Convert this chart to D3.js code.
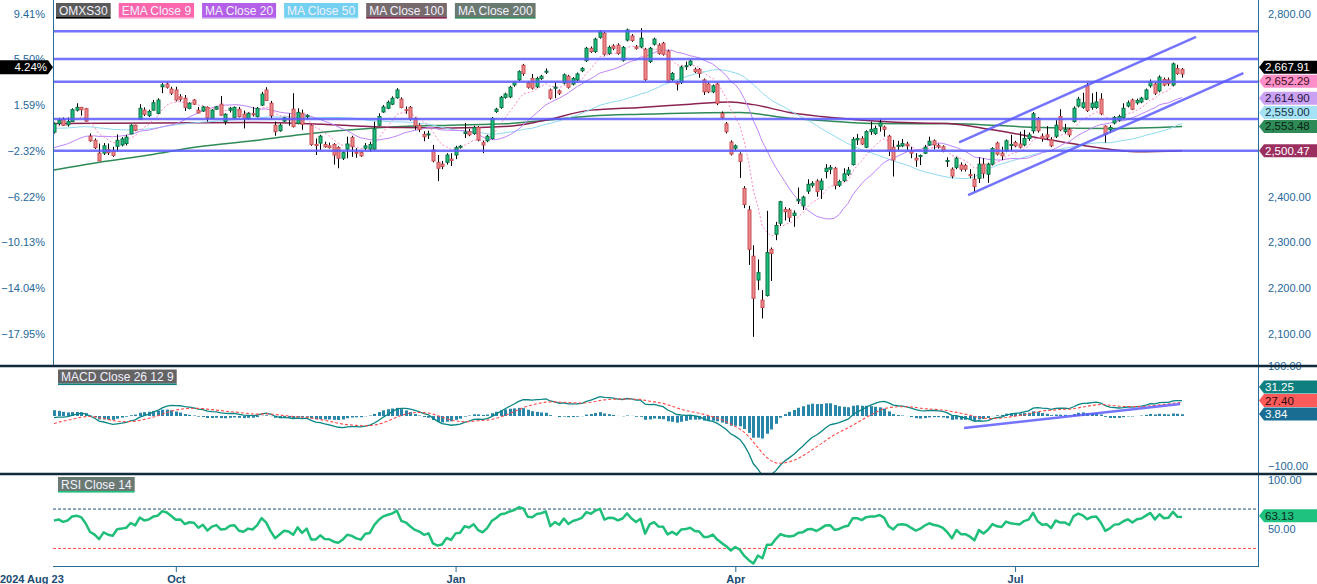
<!DOCTYPE html>
<html>
<head>
<meta charset="UTF-8">
<title>OMXS30</title>
<style>
  body { margin: 0; background: #fff; }
  svg { display: block; font-family: "Liberation Sans", Arial, sans-serif; }
</style>
</head>
<body>
<div id="chart"></div>
<script src="https://d3js.org/d3.v7.min.js"></script>
<script>
var width = 1317, height = 584;

// daily OHLC, first bar 2024 Aug 23
var opens = [
  2541,2560,2569,2557,2564,2589,2595,2592,2532,2523,
  2495,2495,2503,2500,2510,2513,2516,2537,2556,2569,
  2589,2577,2589,2582,2640,2646,2635,2633,2618,2615,
  2593,2611,2589,2587,2595,2571,2591,2602,2564,2589,
  2572,2591,2580,2571,2581,2575,2600,2633,2604,2556,
  2544,2565,2570,2591,2560,2582,2575,2556,2514,2517,
  2514,2511,2514,2507,2484,2504,2529,2497,2497,2506,
  2504,2504,2556,2585,2593,2602,2616,2613,2590,2595,
  2571,2556,2536,2535,2502,2475,2471,2475,2482,2491,
  2508,2538,2542,2538,2551,2518,2522,2527,2586,2595,
  2617,2618,2644,2655,2687,2648,2658,2640,2658,2672,
  2633,2638,2631,2648,2663,2646,2655,2675,2697,2724,
  2717,2748,2757,2713,2729,2731,2698,2742,2751,2727,
  2727,2722,2695,2733,2731,2735,2718,2656,2649,2649,
  2684,2688,2678,2678,2655,2646,2629,2646,2582,2559,
  2519,2506,2493,2418,2371,2270,2218,2174,2184,2285,
  2318,2342,2372,2371,2359,2391,2380,2412,2425,2434,
  2416,2455,2460,2462,2425,2435,2449,2470,2524,2527,
  2508,2542,2538,2554,2552,2532,2508,2510,2511,2515,
  2500,2484,2488,2495,2513,2522,2512,2509,2477,2460,
  2464,2469,2468,2448,2438,2440,2471,2449,2471,2517,
  2495,2500,2512,2518,2515,2513,2527,2544,2571,2532,
  2535,2524,2532,2575,2542,2547,2564,2598,2595,2642,
  2595,2595,2613,2554,2546,2561,2567,2573,2598,2611,
  2605,2607,2613,2642,2646,2631,2656,2655,2644,2680,
  2678];
var highs = [
  2562,2572,2573,2573,2593,2604,2596,2594,2538,2527,
  2516,2517,2516,2509,2536,2530,2535,2558,2557,2602,
  2595,2590,2611,2615,2648,2650,2640,2640,2624,2622,
  2606,2613,2596,2598,2597,2591,2598,2620,2582,2596,
  2597,2596,2588,2584,2596,2596,2629,2639,2609,2564,
  2560,2574,2582,2626,2593,2590,2580,2558,2527,2535,
  2520,2518,2517,2510,2499,2531,2533,2506,2500,2517,
  2520,2564,2582,2600,2610,2619,2637,2617,2597,2598,
  2573,2560,2543,2544,2513,2491,2478,2495,2495,2511,
  2513,2561,2548,2555,2554,2522,2535,2574,2594,2620,
  2627,2642,2652,2676,2690,2652,2668,2662,2666,2680,
  2636,2650,2634,2669,2666,2661,2671,2683,2727,2728,
  2747,2764,2760,2730,2733,2735,2729,2767,2755,2731,
  2768,2725,2727,2747,2735,2738,2721,2672,2653,2686,
  2695,2699,2682,2681,2658,2650,2645,2649,2586,2563,
  2523,2514,2497,2423,2380,2294,2263,2196,2369,2289,
  2345,2391,2377,2375,2370,2420,2402,2438,2434,2438,
  2440,2471,2469,2465,2437,2462,2465,2530,2537,2532,
  2545,2564,2555,2569,2555,2535,2524,2522,2526,2520,
  2509,2495,2492,2513,2531,2525,2516,2512,2486,2464,
  2487,2475,2472,2460,2450,2486,2484,2474,2508,2520,
  2509,2525,2535,2522,2542,2546,2540,2585,2574,2538,
  2554,2530,2567,2591,2559,2550,2597,2618,2627,2648,
  2626,2629,2626,2556,2556,2576,2579,2604,2610,2614,
  2614,2618,2636,2656,2650,2665,2660,2660,2693,2688,
  2681];
var lows = [
  2538,2556,2555,2553,2563,2586,2577,2563,2520,2504,
  2478,2491,2491,2487,2498,2510,2512,2536,2543,2568,
  2576,2574,2588,2580,2626,2636,2622,2608,2608,2587,
  2591,2600,2582,2585,2564,2570,2590,2577,2557,2584,
  2571,2573,2549,2568,2575,2573,2598,2609,2571,2533,
  2542,2563,2555,2551,2558,2546,2570,2511,2491,2502,
  2507,2505,2470,2462,2480,2484,2487,2485,2487,2501,
  2498,2502,2554,2583,2591,2600,2614,2593,2581,2566,
  2546,2541,2521,2526,2475,2434,2460,2470,2467,2482,
  2505,2528,2532,2535,2521,2495,2519,2525,2583,2592,
  2614,2615,2640,2652,2664,2636,2634,2637,2655,2668,
  2612,2615,2622,2645,2636,2643,2652,2672,2694,2714,
  2714,2745,2708,2710,2720,2710,2695,2739,2738,2721,
  2724,2653,2692,2730,2710,2708,2648,2653,2632,2646,
  2677,2685,2670,2660,2622,2626,2626,2600,2570,2538,
  2490,2502,2441,2375,2251,2094,2196,2134,2182,2216,
  2305,2336,2348,2345,2334,2384,2371,2406,2420,2400,
  2395,2440,2449,2416,2421,2432,2445,2468,2513,2513,
  2506,2535,2535,2542,2531,2489,2444,2502,2508,2502,
  2484,2465,2469,2493,2511,2503,2505,2497,2465,2440,
  2460,2455,2455,2440,2411,2430,2440,2430,2468,2490,
  2480,2497,2500,2508,2505,2510,2522,2538,2540,2520,
  2525,2508,2528,2543,2538,2530,2562,2595,2592,2585,
  2590,2592,2578,2518,2540,2558,2564,2570,2595,2589,
  2601,2604,2611,2638,2622,2628,2641,2642,2641,2666,
  2660];
var closes = [
  2559.29,2567,2556,2564,2590,2595,2590,2565,2522,2507,
  2478,2511,2496,2490,2523,2526,2530,2556,2545,2593,
  2580,2586,2605,2611,2644,2639,2626,2611,2613,2595,
  2604,2602,2583,2596,2572,2589,2596,2578,2580,2593,
  2595,2575,2571,2582,2579,2593,2624,2610,2577,2542,
  2556,2572,2568,2553,2584,2558,2577,2514,2513,2532,
  2509,2507,2491,2484,2496,2515,2509,2496,2489,2511,
  2514,2548,2575,2596,2606,2615,2633,2595,2588,2571,
  2555,2547,2531,2537,2478,2462,2466,2491,2479,2507,
  2510,2541,2535,2551,2524,2513,2532,2571,2591,2617,
  2624,2639,2649,2673,2669,2639,2637,2658,2663,2674,
  2615,2639,2626,2666,2639,2658,2668,2680,2724,2717,
  2744,2760,2711,2726,2724,2713,2726,2764,2741,2724,
  2746,2656,2724,2744,2713,2711,2651,2669,2646,2683,
  2686,2696,2673,2669,2629,2629,2642,2604,2573,2542,
  2493,2511,2477,2383,2285,2178,2234,2158,2278,2276,
  2337,2389,2367,2355,2364,2394,2399,2427,2429,2411,
  2434,2462,2464,2425,2433,2450,2458,2525,2527,2515,
  2542,2547,2549,2561,2547,2500,2480,2512,2516,2511,
  2495,2480,2490,2508,2521,2513,2509,2500,2479,2445,
  2484,2460,2460,2446,2422,2471,2451,2471,2505,2493,
  2489,2522,2514,2511,2508,2527,2535,2581,2544,2527,
  2530,2511,2556,2546,2547,2535,2593,2613,2605,2588,
  2604,2607,2581,2537,2551,2573,2575,2593,2605,2591,
  2610,2615,2633,2651,2626,2661,2644,2647,2690,2669,
  2667.91];

// x axis: bar index of each month tick
var tickIndex = [27, 89, 151, 213];
var tickLabels = ["Oct", "Jan", "Apr", "Jul"];
var startLabel = "2024 Aug 23";
var priceTicks = [2100, 2200, 2300, 2400, 2500, 2600, 2700, 2800];

// long averages as [bar index, value]
var ma100Points = [[0,2560],[44,2562],[55,2560],[66,2555],[77,2551],[88,2550],[101,2554],[108,2565],
  [119,2589],[130,2595],[141,2602],[150,2607],[155,2601],[163,2584],[170,2575],[181,2566],[192,2561],
  [198,2560],[208,2546],[219,2527],[230,2509],[240,2498],[250,2500.47]];
var ma200Points = [[0,2458],[10,2475],[21,2491],[32,2509],[44,2522],[55,2536],[66,2546],[77,2553],
  [88,2556],[100,2559],[109,2567],[119,2576],[130,2580],[152,2584],[163,2571],[171,2566],[181,2560],
  [192,2559],[197,2560],[219,2551],[234,2549],[250,2553.48]];

// last values shown in the tags at the right edge
var priceTagValues = [2667.91, 2652.29, 2614.90, 2559.00, 2553.48, 2500.47];
var priceTagFills = ["#000000", "#ff8fc8", "#c9a2f4", "#a6e2f5", "#2e8b57", "#9b2f60"];
var priceTagText = ["#ffffff", "#3a1020", "#2a1440", "#113344", "#0a1f12", "#ffffff"];
var macdTagValues = [31.25, 27.40, 3.84];
var macdTagFills = ["#0f7f80", "#ff5a5a", "#196d93"];
var macdTagText = ["#ffffff", "#2a0a0a", "#ffffff"];
var rsiTagValue = 63.13;

// drawn levels and trend lines
var levels = [2761, 2700.5, 2651, 2569.5, 2500.4];
var channel = [[[200.6, 2518.7], [253.1, 2749]], [[202.6, 2403.6], [263.6, 2670]]];
var macdTrend = [[201.7, -24], [249.6, 24]];

// warm-up values for the indicators (history before the first bar)
var ema9Seed = 2552, ma20Prior = 2504, ma50Prior = 2549;
var ema12Seed = 2556, ema26Seed = 2559.29, signalSeed = -15;
var rsiSeed = [12, 8.6];

var n = closes.length;
var base = closes[0];

function emaSeries(values, period, seed) {
  var k = 2 / (period + 1), out = [seed];
  for (var i = 1; i < values.length; i++) out.push(out[i - 1] + k * (values[i] - out[i - 1]));
  return out;
}
function smaSeries(values, period, prior) {
  var out = [], sum = 0;
  for (var i = 0; i < values.length; i++) {
    sum += values[i];
    if (i >= period) sum -= values[i - period];
    var missing = Math.max(0, period - 1 - i);
    out.push((sum + missing * prior) / period);
  }
  return out;
}

var ema9 = emaSeries(closes, 9, ema9Seed);
var ma20 = smaSeries(closes, 20, ma20Prior);
var ma50 = smaSeries(closes, 50, ma50Prior);
var ema12 = emaSeries(closes, 12, ema12Seed);
var ema26 = emaSeries(closes, 26, ema26Seed);
var macd = ema12.map(function (v, i) { return v - ema26[i]; });
var signal = emaSeries(macd, 9, signalSeed);
var hist = macd.map(function (v, i) { return v - signal[i]; });

var rsi = [];
(function () {
  var ag = rsiSeed[0], al = rsiSeed[1];
  rsi.push(100 - 100 / (1 + ag / al));
  for (var i = 1; i < n; i++) {
    var d = closes[i] - closes[i - 1];
    ag = (ag * 13 + Math.max(d, 0)) / 14;
    al = (al * 13 + Math.max(-d, 0)) / 14;
    rsi.push(100 - 100 / (1 + ag / al));
  }
})();

// scales
var x = d3.scaleLinear().domain([0, n - 1]).range([54, 1182]);
var yMain = d3.scaleLinear().domain([2030.2, 2829.5]).range([366, 0]);
var yMacd = d3.scaleLinear().domain([-100, 100]).range([466, 366]);
var yRsi = d3.scaleLinear().domain([0, 100]).range([578, 479.5]);

var axisColor = "#2a6c96";
var labelColor = "#26679a";

var svg = d3.select("#chart").append("svg")
  .attr("width", width).attr("height", height);

var defs = svg.append("defs");
defs.append("clipPath").attr("id", "clipMain").append("rect")
  .attr("x", 53).attr("y", 0).attr("width", 1205).attr("height", 366);
defs.append("clipPath").attr("id", "clipMacd").append("rect")
  .attr("x", 53).attr("y", 367).attr("width", 1205).attr("height", 106);
defs.append("clipPath").attr("id", "clipRsi").append("rect")
  .attr("x", 53).attr("y", 475).attr("width", 1205).attr("height", 91);

// ---------- main pane ----------
var gMain = svg.append("g").attr("clip-path", "url(#clipMain)");

var idxLine = function (scale) {
  return d3.line().x(function (d, i) { return x(i); }).y(function (d) { return scale(d); });
};
var ptLine = d3.line().x(function (d) { return x(d[0]); }).y(function (d) { return yMain(d[1]); })
  .curve(d3.curveMonotoneX);

gMain.append("path").datum(ma200Points).attr("d", ptLine)
  .attr("fill", "none").attr("stroke", "#2e8b57").attr("stroke-width", 1.5);
gMain.append("path").datum(ma100Points).attr("d", ptLine)
  .attr("fill", "none").attr("stroke", "#8b2252").attr("stroke-width", 1.5);
gMain.append("path").datum(ma50).attr("d", idxLine(yMain))
  .attr("fill", "none").attr("stroke", "#8fdaf2").attr("stroke-width", 1);
gMain.append("path").datum(ma20).attr("d", idxLine(yMain))
  .attr("fill", "none").attr("stroke", "#c083fb").attr("stroke-width", 1);
gMain.append("path").datum(ema9).attr("d", idxLine(yMain))
  .attr("fill", "none").attr("stroke", "#ff86c4").attr("stroke-width", 1)
  .attr("stroke-dasharray", "2,2");

var bars = closes.map(function (c, i) {
  return { i: i, o: opens[i], h: highs[i], l: lows[i], c: c };
});
var candle = gMain.append("g").selectAll("g").data(bars).enter().append("g");
candle.append("line")
  .attr("x1", function (d) { return Math.round(x(d.i)) + 0.5; })
  .attr("x2", function (d) { return Math.round(x(d.i)) + 0.5; })
  .attr("y1", function (d) { return yMain(d.h); })
  .attr("y2", function (d) { return yMain(d.l); })
  .attr("stroke", "#000").attr("stroke-width", 1);
candle.append("rect")
  .attr("x", function (d) { return Math.round(x(d.i)) - 1; })
  .attr("width", 3)
  .attr("y", function (d) { return yMain(Math.max(d.o, d.c)); })
  .attr("height", function (d) { return Math.max(1, Math.abs(yMain(d.o) - yMain(d.c))); })
  .attr("fill", function (d) { return d.c >= d.o ? "#1cc07c" : "#e9898b"; })
  .attr("stroke", function (d) { return d.c >= d.o ? "#0b7346" : "#cc4f55"; })
  .attr("stroke-width", 1);

gMain.append("g").selectAll("line").data(levels).enter().append("line")
  .attr("x1", 53).attr("x2", 1258)
  .attr("y1", function (d) { return yMain(d); })
  .attr("y2", function (d) { return yMain(d); })
  .attr("stroke", "#5c5cff").attr("stroke-opacity", 0.85).attr("stroke-width", 2.5);

gMain.append("g").selectAll("line").data(channel).enter().append("line")
  .attr("x1", function (d) { return x(d[0][0]); })
  .attr("y1", function (d) { return yMain(d[0][1]); })
  .attr("x2", function (d) { return x(d[1][0]); })
  .attr("y2", function (d) { return yMain(d[1][1]); })
  .attr("stroke", "#5c5cff").attr("stroke-opacity", 0.85).attr("stroke-width", 2.5);

// ---------- MACD pane ----------
var gMacd = svg.append("g").attr("clip-path", "url(#clipMacd)");
gMacd.append("g").selectAll("rect").data(hist).enter().append("rect")
  .attr("x", function (d, i) { return Math.round(x(i)) - 1; })
  .attr("width", 3)
  .attr("y", function (d) { return Math.min(yMacd(0), yMacd(d)); })
  .attr("height", function (d) { return Math.abs(yMacd(d) - yMacd(0)); })
  .attr("fill", "#2a86a9");
gMacd.append("path").datum(macd).attr("d", idxLine(yMacd))
  .attr("fill", "none").attr("stroke", "#0a8585").attr("stroke-width", 1.3);
gMacd.append("path").datum(signal).attr("d", idxLine(yMacd))
  .attr("fill", "none").attr("stroke", "#ff4a4a").attr("stroke-width", 1.1)
  .attr("stroke-dasharray", "3,2");
gMacd.append("line")
  .attr("x1", x(macdTrend[0][0])).attr("y1", yMacd(macdTrend[0][1]))
  .attr("x2", x(macdTrend[1][0])).attr("y2", yMacd(macdTrend[1][1]))
  .attr("stroke", "#5c5cff").attr("stroke-opacity", 0.85).attr("stroke-width", 2.5);

// ---------- RSI pane ----------
var gRsi = svg.append("g").attr("clip-path", "url(#clipRsi)");
gRsi.append("line").attr("x1", 53).attr("x2", 1258)
  .attr("y1", yRsi(70)).attr("y2", yRsi(70))
  .attr("stroke", "#1f4f78").attr("stroke-width", 1).attr("stroke-dasharray", "3,2");
gRsi.append("line").attr("x1", 53).attr("x2", 1258)
  .attr("y1", yRsi(30)).attr("y2", yRsi(30))
  .attr("stroke", "#ff4a4a").attr("stroke-width", 1).attr("stroke-dasharray", "3,2");
gRsi.append("path").datum(rsi).attr("d", idxLine(yRsi))
  .attr("fill", "none").attr("stroke", "#1fbf7a").attr("stroke-width", 2.5)
  .attr("stroke-linejoin", "round");

// ---------- value tags (positions first, so covered tick labels can be dropped) ----------
function stackTags(values, scale, gap) {
  var items = values.map(function (v, k) { return { v: v, k: k }; });
  items.sort(function (a, b) { return a.v - b.v; });
  var prev = Infinity;
  items.forEach(function (t) {
    t.y = Math.min(scale(t.v), prev - gap);
    prev = t.y;
  });
  return items;
}
var fmtPrice = d3.format(",.2f");
var fmtPct = d3.format(".2f");

var priceTags = stackTags(priceTagValues, yMain, 14);
var macdTags = stackTags(macdTagValues, yMacd, 13.5);
var tagYs = priceTags.map(function (t) { return t.y; });

// ---------- axes ----------
function styleAxis(g, bold) {
  g.select(".domain").remove();
  g.selectAll("text").attr("fill", labelColor).attr("font-size", 11)
    .attr("font-family", "Liberation Sans, Arial, sans-serif")
    .attr("font-weight", bold ? "bold" : null);
  g.selectAll(".tick line").attr("stroke", axisColor);
}
// price labels hidden behind a tag are not drawn
var visiblePriceTicks = priceTicks.filter(function (p) {
  return tagYs.every(function (ty) { return Math.abs(yMain(p) - ty) > 8; });
});

svg.append("g").attr("transform", "translate(1258,0)")
  .call(d3.axisRight(yMain).tickValues(visiblePriceTicks).tickFormat(fmtPrice).tickSize(0).tickPadding(10))
  .call(styleAxis);
svg.append("g").attr("transform", "translate(53,0)")
  .call(d3.axisLeft(yMain).tickValues(priceTicks)
    .tickFormat(function (p) { return fmtPct((p / base - 1) * 100) + "%"; })
    .tickSize(0).tickPadding(8))
  .call(styleAxis);
svg.append("g").attr("transform", "translate(1258,0)")
  .call(d3.axisRight(yMacd).tickValues([-100, 100]).tickFormat(fmtPrice).tickSize(0).tickPadding(10))
  .call(styleAxis);
svg.append("g").attr("transform", "translate(1258,0)")
  .call(d3.axisRight(yRsi).tickValues([50, 100]).tickFormat(fmtPrice).tickSize(0).tickPadding(10))
  .call(styleAxis);

var xAxis = svg.append("g").attr("transform", "translate(0,566)")
  .call(d3.axisBottom(x).tickValues(tickIndex)
    .tickFormat(function (d, i) { return tickLabels[i]; }).tickSize(6).tickPadding(3))
  .call(function (g) { styleAxis(g, true); });
xAxis.selectAll("text").attr("fill", "#1b4a72");
svg.append("text").attr("x", 0).attr("y", 582.5)
  .attr("font-size", 11).attr("font-weight", "bold").attr("fill", "#1b4a72")
  .text(startLabel);

// axis lines and pane separators
svg.append("line").attr("x1", 53.5).attr("x2", 53.5).attr("y1", 0).attr("y2", 366)
  .attr("stroke", axisColor).attr("stroke-width", 1);
svg.append("line").attr("x1", 1258.5).attr("x2", 1258.5).attr("y1", 0).attr("y2", 567)
  .attr("stroke", axisColor).attr("stroke-width", 1);
svg.append("line").attr("x1", 53).attr("x2", 1259).attr("y1", 566.5).attr("y2", 566.5)
  .attr("stroke", axisColor).attr("stroke-width", 1);
[366, 474].forEach(function (yy) {
  svg.append("line").attr("x1", 0).attr("x2", width).attr("y1", yy).attr("y2", yy)
    .attr("stroke", "#0f2b3b").attr("stroke-width", 2.5);
});

// ---------- draw tags ----------
function rightTag(y0, fill, color, label) {
  var g = svg.append("g");
  g.append("path")
    .attr("d", "M1259," + y0 + "L1264," + (y0 - 6.5) + "L1317," + (y0 - 6.5) +
      "L1317," + (y0 + 6.5) + "L1264," + (y0 + 6.5) + "Z")
    .attr("fill", fill);
  g.append("text").attr("x", 1265).attr("y", y0).attr("dy", "0.35em")
    .attr("font-size", 11.5).attr("fill", color).text(label);
}
priceTags.forEach(function (t) {
  rightTag(t.y, priceTagFills[t.k], priceTagText[t.k], fmtPrice(t.v));
});
macdTags.forEach(function (t) {
  rightTag(t.y, macdTagFills[t.k], macdTagText[t.k], fmtPrice(t.v));
});
rightTag(yRsi(rsiTagValue), "#1fc27f", "#0a2a1a", fmtPrice(rsiTagValue));

// percent tag on the left, level with the close tag
var closeY = priceTags.filter(function (t) { return t.k === 0; })[0].y;
svg.append("path")
  .attr("d", "M0," + (closeY - 7) + "L48," + (closeY - 7) + "L53," + closeY +
    "L48," + (closeY + 7) + "L0," + (closeY + 7) + "Z")
  .attr("fill", "#000");
svg.append("text").attr("x", 47).attr("y", closeY).attr("dy", "0.35em")
  .attr("text-anchor", "end").attr("font-size", 11.5).attr("fill", "#fff")
  .text(fmtPct((priceTagValues[0] / base - 1) * 100) + "%");

// ---------- legends ----------
function legendRow(items, x0, y0) {
  var cx = x0;
  items.forEach(function (it) {
    var g = svg.append("g");
    var t = g.append("text").attr("x", cx + 3).attr("y", y0 + 11.5)
      .attr("font-size", 12).attr("fill", "#f2f2ff").text(it.name);
    var w = t.node().getComputedTextLength() + 6;
    g.insert("rect", "text").attr("x", cx).attr("y", y0).attr("width", w).attr("height", 14)
      .attr("fill", it.bg);
    g.append("rect").attr("x", cx).attr("y", y0 + 14).attr("width", w).attr("height", 1.6)
      .attr("fill", it.line);
    cx += w + 8;
  });
}
legendRow([
  { name: "OMXS30", bg: "#5a5a5a", line: "#000000" },
  { name: "EMA Close 9", bg: "#fb66ad", line: "#ff9fd0" },
  { name: "MA Close 20", bg: "#b45fe8", line: "#c98ef4" },
  { name: "MA Close 50", bg: "#74d0f0", line: "#a2e2f6" },
  { name: "MA Close 100", bg: "#776a6c", line: "#8b2252" },
  { name: "MA Close 200", bg: "#6b7a70", line: "#2e8b57" }
], 56, 3);
legendRow([{ name: "MACD Close 26 12 9", bg: "#646464", line: "#0f8080" }], 58, 369.5);
legendRow([{ name: "RSI Close 14", bg: "#6a7a72", line: "#1fc27f" }], 58, 477);
</script>
</body>
</html>
